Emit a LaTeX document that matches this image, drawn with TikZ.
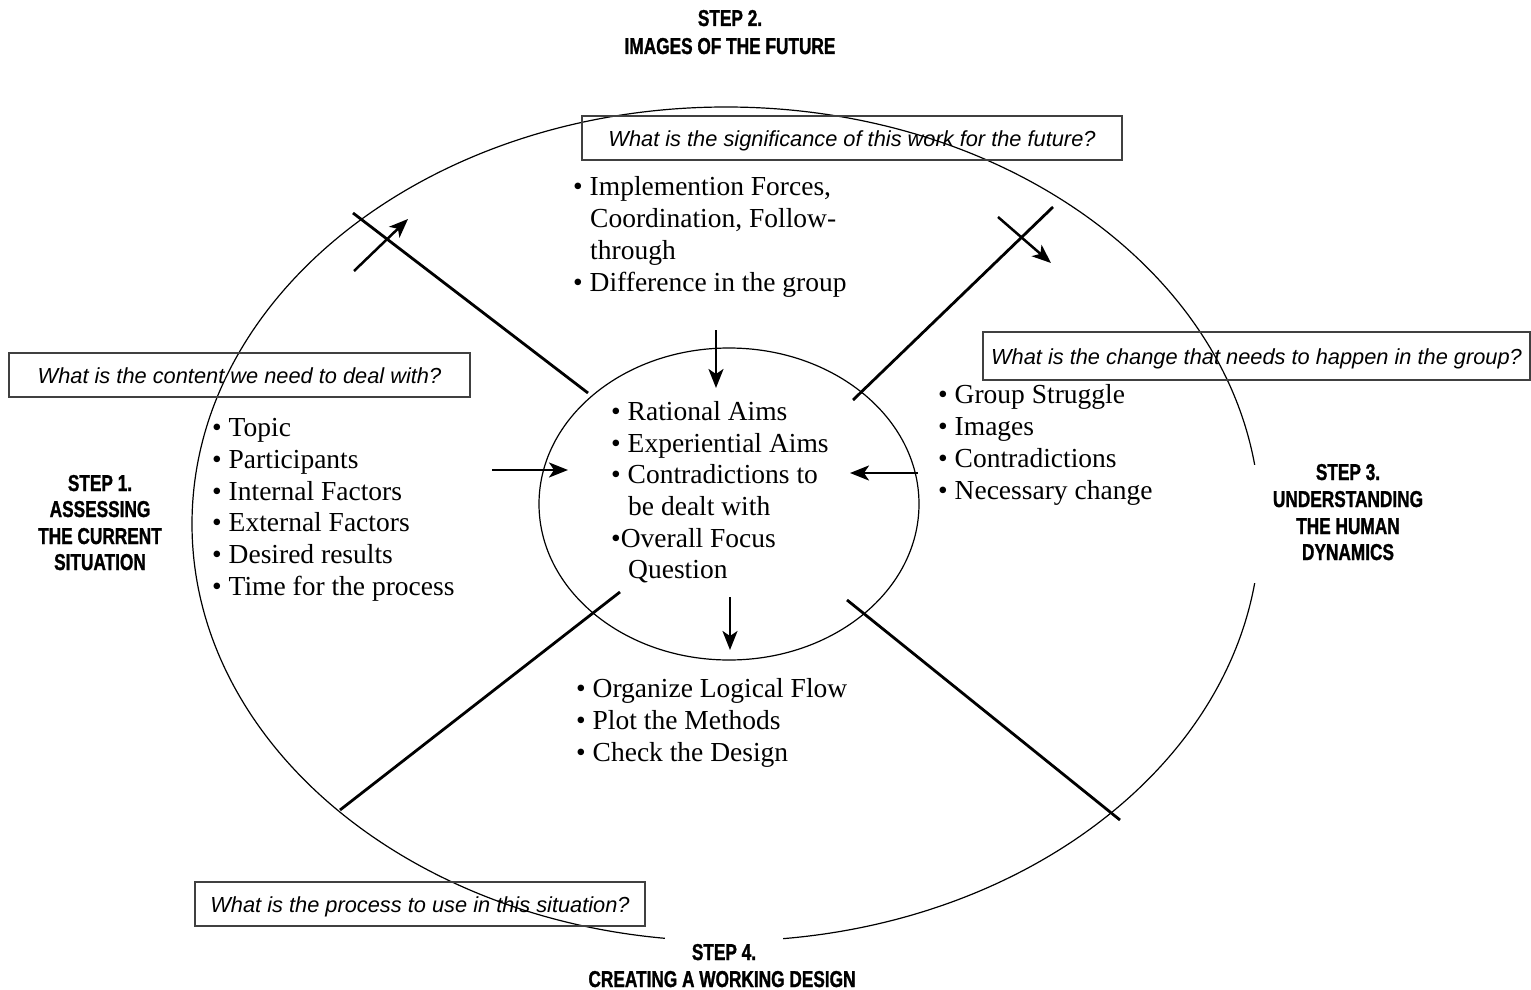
\documentclass[tikz,border=0pt]{standalone}
\usepackage{fontspec}
\setmainfont{Liberation Serif}
\newfontfamily\askfont{Liberation Sans}
\newfontfamily\stepfont[FakeStretch=0.75,FakeBold=1.2]{Liberation Sans}
\usetikzlibrary{shapes.geometric,arrows.meta}

\tikzset{
  item/.style={anchor=base west, inner sep=0pt, font=\fontsize{27.5}{32}\selectfont},
  ask/.style={draw=black!75, line width=1.2pt, inner sep=0pt, text height=16pt,
    text depth=0pt, minimum height=44pt,
    font=\askfont\itshape\fontsize{21.8}{26}\selectfont},
  steplbl/.style={anchor=base, inner sep=0pt,
    font=\stepfont\bfseries\fontsize{23}{27}\selectfont},
  ring/.style={draw, ellipse, line width=1.2pt, inner sep=0pt},
  spoke/.style={line width=2.8pt},
  flow/.style={line width=2.5pt, -{Stealth[length=19pt,width=15pt,inset=5pt]}},
}

\begin{document}
\begin{tikzpicture}[x=1pt,y=-1pt]
\useasboundingbox (0,0) rectangle (1531,990);

% the two rings
\node[ring, minimum width=1068pt, minimum height=834pt] (outer) at (726,524) {};
\node[ring, minimum width=380pt, minimum height=312pt] (core) at (729,504) {};

% four spokes dividing the outer ring
\coordinate (ulA) at (353,213);  \coordinate (ulB) at (588,393);
\coordinate (urA) at (1053,207); \coordinate (urB) at (853,400);
\coordinate (llA) at (340,810);  \coordinate (llB) at (620,592);
\coordinate (lrA) at (1120,820); \coordinate (lrB) at (847,600);
\draw[spoke] (ulA) -- (ulB);
\draw[spoke] (urA) -- (urB);
\draw[spoke] (llA) -- (llB);
\draw[spoke] (lrA) -- (lrB);

% circulation arrows across the upper spokes
\coordinate (c1a) at (354,271);  \coordinate (c1b) at (408,219);
\coordinate (c2a) at (998,217);  \coordinate (c2b) at (1051,263);
\draw[flow] (c1a) -- (c1b);
\draw[flow] (c2a) -- (c2b);

% arrows feeding the core
\coordinate (inN) at (716,330); \coordinate (inNt) at (716,388);
\coordinate (inW) at (492,470); \coordinate (inWt) at (568,470);
\coordinate (inE) at (918,473); \coordinate (inEt) at (850,473);
\coordinate (outS) at (730,597); \coordinate (outSt) at (730,650);
\draw[flow] (inN) -- (inNt);
\draw[flow] (inW) -- (inWt);
\draw[flow] (inE) -- (inEt);
\draw[flow] (outS) -- (outSt);

% guiding questions
\node[ask, minimum width=540pt] (qtop) at (852,138) {What is the significance of this work for the future?};
\node[ask, minimum width=461pt] (qleft) at (239.5,375) {What is the content we need to deal with?};
\node[ask, minimum width=547pt, minimum height=48pt] (qright) at (1256.5,356) {What is the change that needs to happen in the group?};
\node[ask, minimum width=450pt] (qbottom) at (420,904) {What is the process to use in this situation?};

% upper quadrant
\node[item] (t1) at (573,195) {• Implemention Forces,};
\node[item] (t2) at (590,227) {Coordination, Follow-};
\node[item] (t3) at (590,259) {through};
\node[item] (t4) at (573,291) {• Difference in the group};

% left quadrant
\node[item] (l1) at (212,436) {• Topic};
\node[item] (l2) at (212,468) {• Participants};
\node[item] (l3) at (212,500) {• Internal Factors};
\node[item] (l4) at (212,531) {• External Factors};
\node[item] (l5) at (212,563) {• Desired results};
\node[item] (l6) at (212,595) {• Time for the process};

% core
\node[item] (c1) at (611,420) {• Rational Aims};
\node[item] (c2) at (611,452) {• Experiential Aims};
\node[item] (c3) at (611,483) {• Contradictions to};
\node[item] (c4) at (628,515) {be dealt with};
\node[item] (c5) at (611,547) {•Overall Focus};
\node[item] (c6) at (628,578) {Question};

% right quadrant
\node[item] (r1) at (938,403) {• Group Struggle};
\node[item] (r2) at (938,435) {• Images};
\node[item] (r3) at (938,467) {• Contradictions};
\node[item] (r4) at (938,499) {• Necessary change};

% lower quadrant
\node[item] (b1) at (576,697) {• Organize Logical Flow};
\node[item] (b2) at (576,729) {• Plot the Methods};
\node[item] (b3) at (576,761) {• Check the Design};

% step titles
\node[steplbl] (s2a) at (730,26) {STEP 2.};
\node[steplbl] (s2b) at (730,54) {IMAGES OF THE FUTURE};

\node[steplbl] (s1a) at (100,491) {STEP 1.};
\node[steplbl] (s1b) at (100,517) {ASSESSING};
\node[steplbl] (s1c) at (100,544) {THE CURRENT};
\node[steplbl] (s1d) at (100,570) {SITUATION};

\fill[white] (1245,465) rectangle (1450,583);
\node[steplbl] (s3a) at (1348,480) {STEP 3.};
\node[steplbl] (s3b) at (1348,507) {UNDERSTANDING};
\node[steplbl] (s3c) at (1348,534) {THE HUMAN};
\node[steplbl] (s3d) at (1348,560) {DYNAMICS};

\node[steplbl, fill=white, inner xsep=27pt, inner ysep=7pt] (s4a) at (724,960) {STEP 4.};
\node[steplbl] (s4b) at (722,987) {CREATING A WORKING DESIGN};
\end{tikzpicture}
\end{document}
